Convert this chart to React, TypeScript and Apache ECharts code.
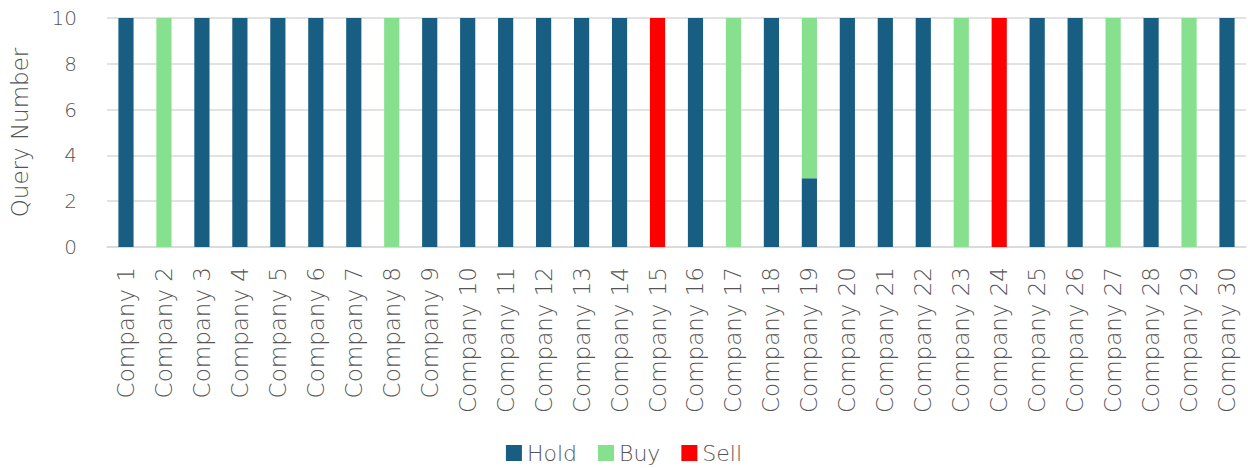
import React, { useEffect, useRef } from "react";
import * as echarts from "echarts";

const categories = Array.from({ length: 30 }, (_, i) => `Company ${i + 1}`);
const holdValues = [10, 0, 10, 10, 10, 10, 10, 0, 10, 10, 10, 10, 10, 10, 0, 10, 0, 10, 3, 10, 10, 10, 0, 0, 10, 10, 0, 10, 0, 10];
const buyValues = [0, 10, 0, 0, 0, 0, 0, 10, 0, 0, 0, 0, 0, 0, 0, 0, 10, 0, 7, 0, 0, 0, 10, 0, 0, 0, 10, 0, 10, 0];
const sellValues = [0, 0, 0, 0, 0, 0, 0, 0, 0, 0, 0, 0, 0, 0, 10, 0, 0, 0, 0, 0, 0, 0, 0, 10, 0, 0, 0, 0, 0, 0];
const yTicks = [0, 2, 4, 6, 8, 10];

const FONT = "'DejaVu Sans', 'Noto Sans', sans-serif";
const TEXT = "#555555";

export default function App() {
  const ref = useRef<HTMLDivElement>(null);
  useEffect(() => {
    if (!ref.current) return;
    const chart = echarts.init(ref.current, undefined, { renderer: "svg" });
    const mk = (name: string, data: number[], color: string) => ({
      name,
      type: "bar",
      stack: "total",
      data: data.map((v) => (v === 0 ? null : v)),
      barWidth: "40%",
      itemStyle: { color },
    });
    chart.setOption({
      animation: false,
      textStyle: { fontFamily: FONT, fontWeight: 200 },
      grid: { left: 105, right: 2, top: 18, bottom: 221, containLabel: false },
      legend: {
        top: 437,
        left: "center",
        itemWidth: 16,
        itemHeight: 16,
        itemGap: 21,
        icon: "rect",
        textStyle: { fontSize: 22, color: TEXT, fontFamily: FONT, fontWeight: 200 },
        data: ["Hold", "Buy", "Sell"],
      },
      xAxis: {
        type: "category",
        data: categories,
        axisTick: { show: false },
        axisLine: { lineStyle: { color: "#d9d9d9", width: 1.5 } },
        axisLabel: { rotate: 90, fontSize: 23, color: TEXT, margin: 20, fontFamily: FONT, fontWeight: 200, interval: 0 },
      },
      yAxis: {
        type: "value",
        min: yTicks[0],
        max: yTicks[yTicks.length - 1],
        interval: 2,
        name: "Query Number",
        nameLocation: "middle",
        nameGap: 76,
        nameTextStyle: { fontSize: 23, color: TEXT, fontFamily: FONT, fontWeight: 200 },
        axisLabel: { fontSize: 20, color: TEXT, margin: 30, fontFamily: FONT, fontWeight: 200 },
        splitLine: { lineStyle: { color: "#d9d9d9", width: 1.5 } },
      },
      series: [
        mk("Hold", holdValues, "#175e82"),
        mk("Buy", buyValues, "#86e08e"),
        mk("Sell", sellValues, "#ff0000"),
      ],
    });
    return () => chart.dispose();
  }, []);
  return (
    <div
      ref={ref}
      style={{ position: "fixed", left: 0, top: 0, width: 1248, height: 468, background: "#fff" }}
    />
  );
}
